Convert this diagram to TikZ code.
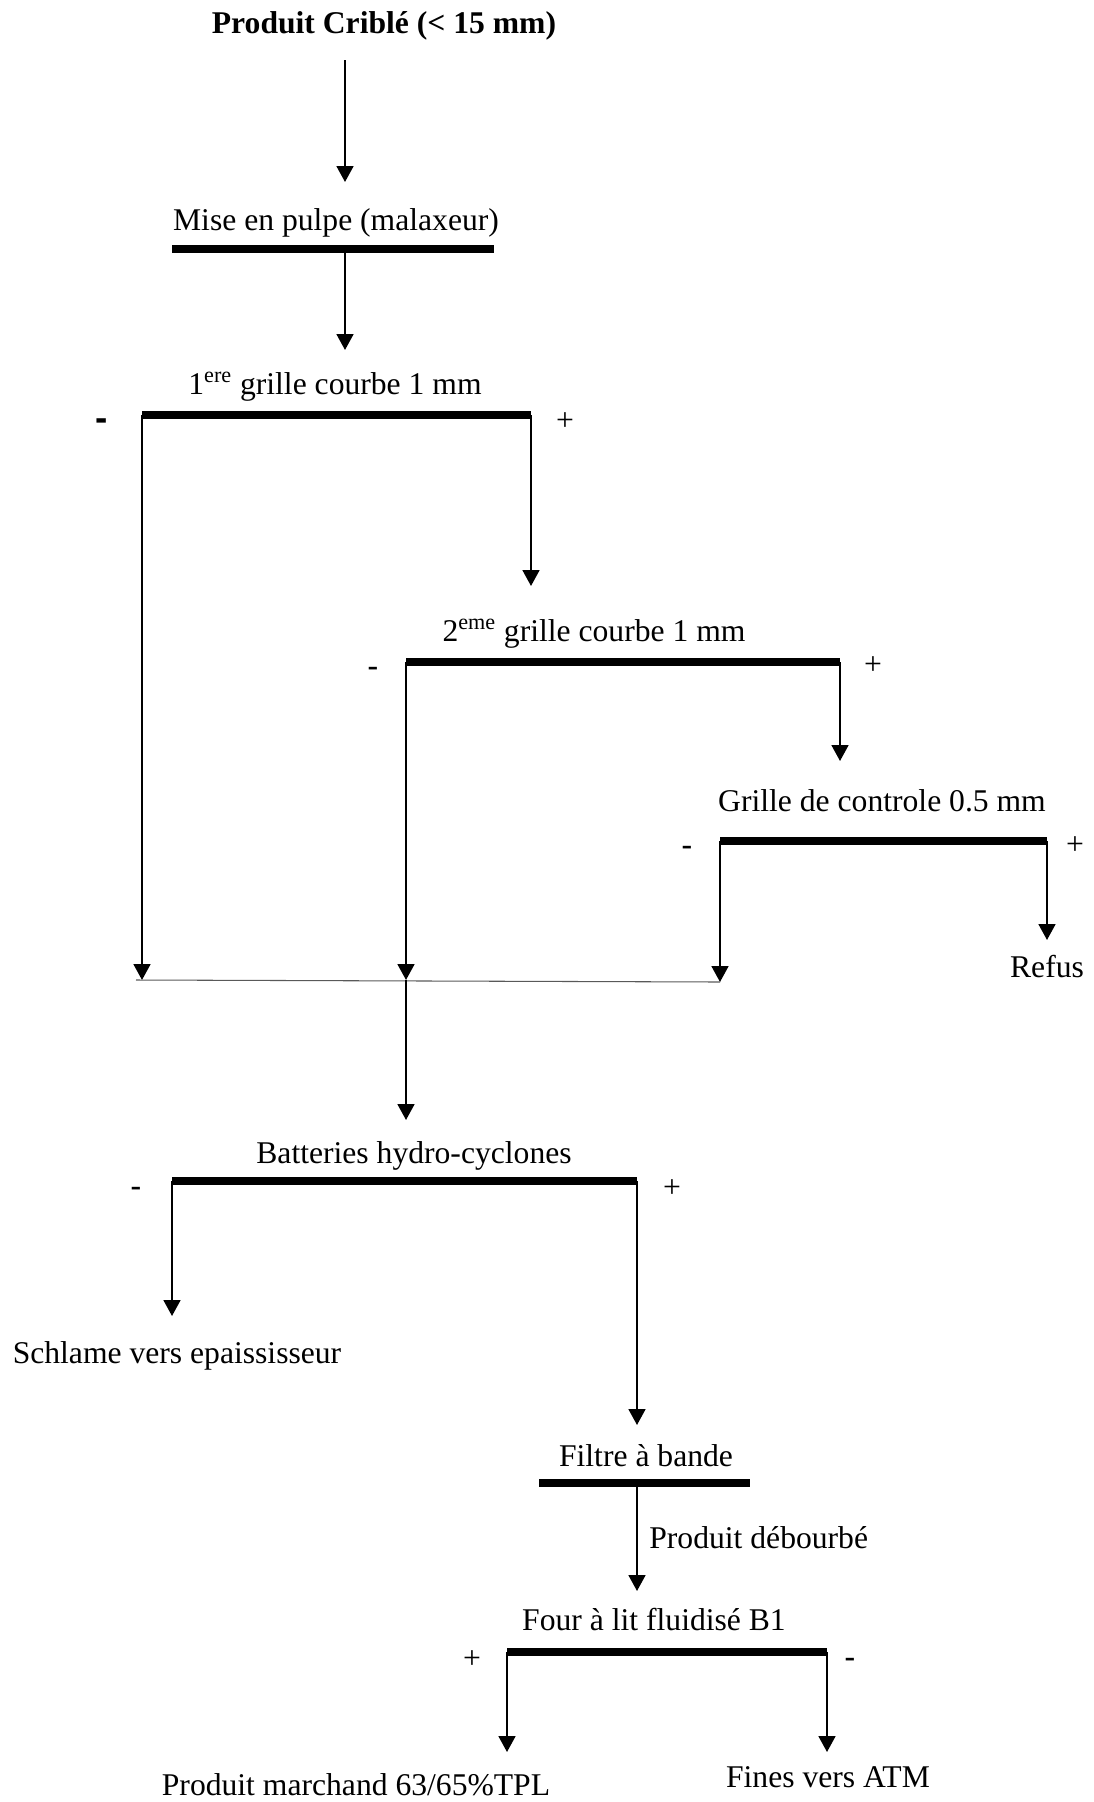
\documentclass[tikz,border=0pt]{standalone}
\usepackage{fontspec}
\setmainfont{Liberation Serif}
\newfontfamily\minusfont{Liberation Sans}
\usetikzlibrary{arrows.meta}

\begin{document}
\begin{tikzpicture}[x=0.02cm, y=-0.02cm,
			bar/.style={line width=4.4pt},
			flow/.style={line width=1.2pt, -{Triangle[length=9pt, width=9.5pt]}},
			txt/.style={anchor=base, inner sep=0pt, font=\fontsize{18}{22}\selectfont},
			mns/.style={anchor=base, inner sep=0pt, font=\fontsize{19}{22}\minusfont}]

		\useasboundingbox (0,0) rectangle (1094,1802);

		% alimentation et malaxeur
		\node[txt, font=\fontsize{18}{22}\selectfont\bfseries] (feed) at (384,33) {Produit Criblé (< 15 mm)};
		\coordinate (f0) at (345,60);
		\coordinate (f1) at (345,182);
		\draw[flow] (f0) -- (f1);
		\node[txt] (pulp) at (336,230) {Mise en pulpe (malaxeur)};
		\coordinate (b1l) at (172,249);
		\coordinate (b1r) at (494,249);
		\draw[bar] (b1l) -- (b1r);
		\coordinate (p0) at (345,252);
		\coordinate (p1) at (345,350);
		\draw[flow] (p0) -- (p1);

		% 1ere grille
		\node[txt] (g1) at (335,394) {1\textsuperscript{ere} grille courbe 1 mm};
		\coordinate (b2l) at (142,415);
		\coordinate (b2r) at (531,415);
		\draw[bar] (b2l) -- (b2r);
		\node[mns, font=\fontsize{21}{24}\minusfont\bfseries] (g1m) at (102,430) {-};
		\node[txt] (g1p) at (565,430) {+};
		\coordinate (c1) at (142,980);
		\coordinate (g2in) at (531,586);
		\draw[flow] (b2l) -- (c1);
		\draw[flow] (b2r) -- (g2in);

		% 2eme grille
		\node[txt] (g2) at (594,641) {2\textsuperscript{eme} grille courbe 1 mm};
		\coordinate (b3l) at (406,662);
		\coordinate (b3r) at (840,662);
		\draw[bar] (b3l) -- (b3r);
		\node[mns] (g2m) at (373,677) {-};
		\node[txt] (g2p) at (873,674) {+};
		\coordinate (c2) at (406,980);
		\coordinate (gcin) at (840,761);
		\draw[flow] (b3l) -- (c2);
		\draw[flow] (b3r) -- (gcin);

		% grille de controle
		\node[txt] (gc) at (882,811) {Grille de controle 0.5 mm};
		\coordinate (b4l) at (720,841);
		\coordinate (b4r) at (1047,841);
		\draw[bar] (b4l) -- (b4r);
		\node[mns] (gcm) at (687,856) {-};
		\node[txt] (gcp) at (1075,854) {+};
		\coordinate (c3) at (720,982);
		\coordinate (rin) at (1047,940);
		\draw[flow] (b4l) -- (c3);
		\draw[flow] (b4r) -- (rin);
		\node[txt] (refus) at (1047,977) {Refus};

		% collecteur des passants
		\coordinate (k0) at (136,980);
		\coordinate (k1) at (720,982);
		\draw[line width=0.6pt, black!65] (k0) -- (k1);
		\coordinate (hcin) at (406,1120);
		\draw[flow] (c2) -- (hcin);

		% hydro-cyclones
		\node[txt] (hc) at (414,1163) {Batteries hydro-cyclones};
		\coordinate (b5l) at (172,1181);
		\coordinate (b5r) at (637,1181);
		\draw[bar] (b5l) -- (b5r);
		\node[mns] (hcm) at (136,1197) {-};
		\node[txt] (hcp) at (672,1197) {+};
		\coordinate (sin) at (172,1316);
		\coordinate (fin) at (637,1425);
		\draw[flow] (b5l) -- (sin);
		\draw[flow] (b5r) -- (fin);
		\node[txt] (schl) at (177,1363) {Schlame vers epaississeur};

		% filtre
		\node[txt] (filt) at (646,1466) {Filtre à bande};
		\coordinate (b6l) at (539,1483);
		\coordinate (b6r) at (750,1483);
		\draw[bar] (b6l) -- (b6r);
		\coordinate (d0) at (637,1485);
		\coordinate (d1) at (637,1591);
		\draw[flow] (d0) -- (d1);
		\node[txt, anchor=base west] (deb) at (649,1548) {Produit débourbé};

		% four
		\node[txt] (four) at (654,1630) {Four à lit fluidisé B1};
		\coordinate (b7l) at (507,1652);
		\coordinate (b7r) at (827,1652);
		\draw[bar] (b7l) -- (b7r);
		\node[txt] (fop) at (472,1668) {+};
		\node[mns] (fom) at (850,1668) {-};
		\coordinate (min) at (507,1752);
		\coordinate (ain) at (827,1752);
		\draw[flow] (b7l) -- (min);
		\draw[flow] (b7r) -- (ain);
		\node[txt] (march) at (356,1795) {Produit marchand 63/65\%TPL};
		\node[txt] (fines) at (828,1787) {Fines vers ATM};
	\end{tikzpicture}
\end{document}
